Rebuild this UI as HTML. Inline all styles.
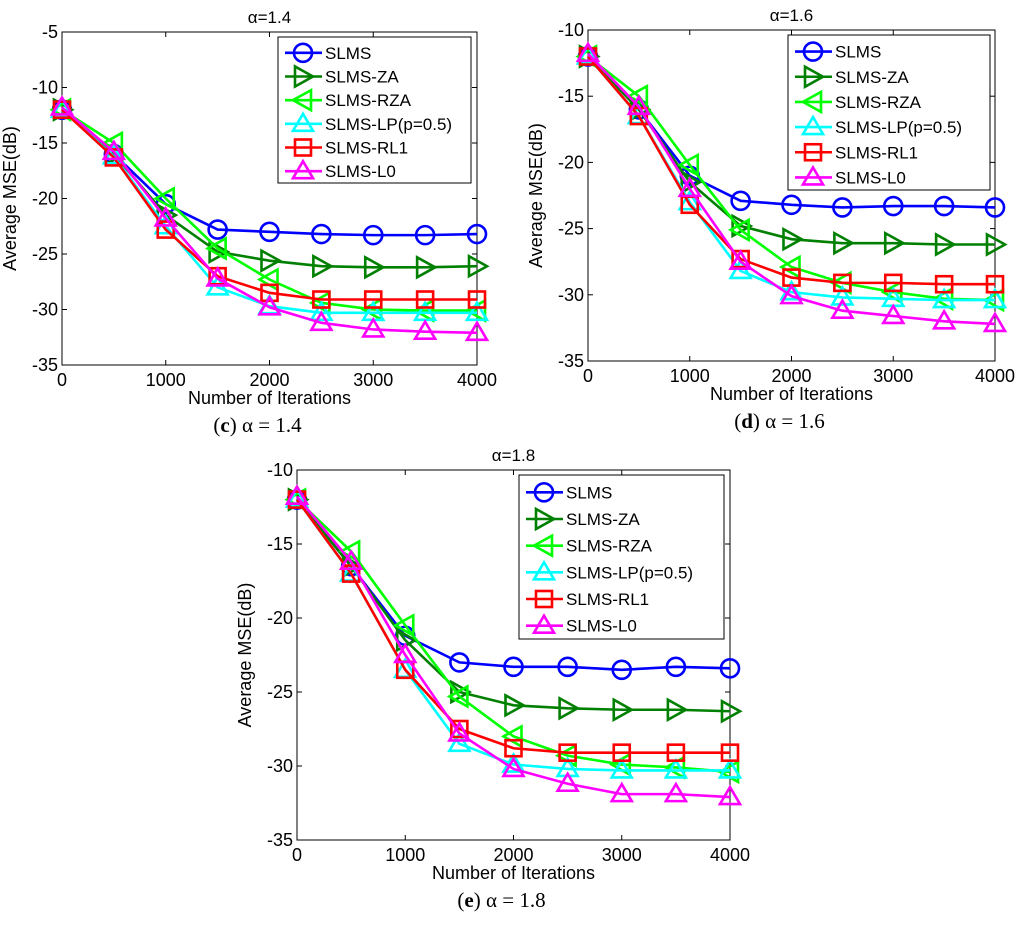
<!DOCTYPE html>
<html><head><meta charset="utf-8"><style>
body{margin:0;background:#fff;}
svg{display:block;font-family:"Liberation Sans",Arial,sans-serif;}
</style></head><body>
<svg id="fig" width="1024" height="925" viewBox="0 0 1024 925"></svg>
<script>
const xIters=[0,500,1000,1500,2000,2500,3000,3500,4000];
const seriesNames=["SLMS","SLMS-ZA","SLMS-RZA","SLMS-LP(p=0.5)","SLMS-RL1","SLMS-L0"];
const seriesKeys=["slms","slms-za","slms-rza","slms-lp","slms-rl1","slms-l0"];
const xTicks=[0,1000,2000,3000,4000];
// panel c (alpha=1.4)
const cSLMS=[-12,-16,-20.5,-22.8,-23,-23.2,-23.3,-23.3,-23.2];
const cZA=[-12,-16,-21.5,-24.8,-25.6,-26.1,-26.2,-26.2,-26.1];
const cRZA=[-12,-15,-20,-24.5,-27.3,-29.4,-30,-30.1,-30.1];
const cLP=[-12,-16.2,-22.5,-28,-29.7,-30.3,-30.3,-30.3,-30.3];
const cRL1=[-12,-16.3,-22.8,-27,-28.5,-29.1,-29.1,-29.1,-29.1];
const cL0=[-11.8,-15.8,-21.8,-27.2,-29.8,-31.2,-31.8,-32,-32.1];
const cYTicks=[-5,-10,-15,-20,-25,-30,-35];
// panel d (alpha=1.6)
const dSLMS=[-12,-16,-21,-22.9,-23.2,-23.4,-23.3,-23.3,-23.4];
const dZA=[-12,-16,-21.5,-24.8,-25.8,-26.1,-26.1,-26.2,-26.2];
const dRZA=[-12,-15,-20.2,-25.1,-27.9,-29.1,-29.8,-30.3,-30.4];
const dLP=[-12,-16.5,-23,-28.2,-29.8,-30.2,-30.3,-30.4,-30.4];
const dRL1=[-12,-16.5,-23.2,-27.3,-28.7,-29.1,-29.1,-29.2,-29.2];
const dL0=[-11.8,-15.8,-22,-27.5,-30.1,-31.2,-31.6,-32,-32.2];
const dYTicks=[-10,-15,-20,-25,-30,-35];
// panel e (alpha=1.8)
const eSLMS=[-12,-16.5,-21.2,-23,-23.3,-23.3,-23.5,-23.3,-23.4];
const eZA=[-12,-16.5,-21.5,-25,-25.9,-26.1,-26.2,-26.2,-26.3];
const eRZA=[-12,-15.5,-20.5,-25.3,-28,-29.3,-29.9,-30.1,-30.4];
const eLP=[-12,-17,-23.5,-28.5,-29.9,-30.2,-30.3,-30.3,-30.3];
const eRL1=[-12,-17,-23.5,-27.5,-28.8,-29.1,-29.1,-29.1,-29.1];
const eL0=[-11.8,-16.2,-22.5,-27.8,-30.2,-31.2,-31.9,-31.9,-32.1];
const eYTicks=[-10,-15,-20,-25,-30,-35];

const colors=["#0000ff","#008000","#00ff00","#00ffff","#ff0000","#ff00ff"];
const markers=["circle","right","left","up","square","up"];
const NS="http://www.w3.org/2000/svg";
const svg=document.getElementById("fig");
function mk(tag,attrs,parent){const e=document.createElementNS(NS,tag);for(const k in attrs)e.setAttribute(k,attrs[k]);(parent||svg).appendChild(e);return e;}
function marker(g,type,x,y,col){
  const r=9;let e;
  if(type==="circle")e=mk("circle",{cx:x,cy:y,r:r},g);
  else if(type==="square")e=mk("rect",{x:x-8,y:y-8,width:16,height:16},g);
  else{let p;
    if(type==="up")p=[[x,y-r-1],[x-r-1,y+r-2],[x+r+1,y+r-2]];
    else if(type==="right")p=[[x+r+1,y],[x-r+1,y-r-1],[x-r+1,y+r+1]];
    else p=[[x-r-1,y],[x+r-1,y-r-1],[x+r-1,y+r+1]];
    e=mk("polygon",{points:p.map(q=>q.join(",")).join(" ")},g);}
  e.setAttribute("fill","none");e.setAttribute("stroke",col);e.setAttribute("stroke-width","2.6");
  
  
}
function panel(id,P,yMax,yMin,yTicks,series,title,letter,alphaTxt,leg){
  const g=mk("g",{});
  
  
  const sx=v=>P.l+(v-0)/(4000)*(P.r-P.l);
  const sy=v=>P.t+(yMax-v)/(yMax-yMin)*(P.b-P.t);
  const box=mk("rect",{x:P.l,y:P.t,width:P.r-P.l,height:P.b-P.t,fill:"#fff",stroke:"#000","stroke-width":1},g);
  
  yTicks.forEach(t=>{const y=sy(t);
    mk("line",{x1:P.l,x2:P.l+5,y1:y,y2:y,stroke:"#000"},g);mk("line",{x1:P.r,x2:P.r-5,y1:y,y2:y,stroke:"#000"},g);
    const tx=mk("text",{x:P.l-4,y:y+6,"text-anchor":"end","font-size":18},g);tx.textContent=t;
    });
  xTicks.forEach(t=>{const x=sx(t);
    mk("line",{x1:x,x2:x,y1:P.b,y2:P.b-5,stroke:"#000"},g);mk("line",{x1:x,x2:x,y1:P.t,y2:P.t+5,stroke:"#000"},g);
    const tx=mk("text",{x:x,y:P.b+21,"text-anchor":"middle","font-size":18},g);tx.textContent=t;
    });
  const xl=mk("text",{x:(P.l+P.r)/2,y:P.b+39,"text-anchor":"middle","font-size":18},g);xl.textContent="Number of Iterations";
  
  const yc=(P.t+P.b)/2;
  const yl=mk("text",{x:P.l-46,y:yc,"text-anchor":"middle","font-size":18,transform:`rotate(-90 ${P.l-46} ${yc})`},g);
  yl.textContent="Average MSE(dB)";
  const tt=mk("text",{x:(P.l+P.r)/2,y:P.t-9,"text-anchor":"middle","font-size":17},g);tt.textContent=title;
  
  const cap=mk("text",{x:(P.l+P.r)/2-12,y:P.b+67,"text-anchor":"middle","font-size":21,"font-family":"Liberation Serif,serif"},g);
  cap.innerHTML=`(<tspan font-weight="bold">${letter}</tspan>) α = ${alphaTxt}`;
  
  series.forEach((s,i)=>{
    const sg=mk("g",{},g);
    
    const pl=mk("polyline",{points:s.map((v,j)=>sx(xIters[j])+","+sy(v)).join(" "),fill:"none",stroke:colors[i],"stroke-width":2.6},sg);
    
    s.forEach((v,j)=>marker(sg,markers[i],sx(xIters[j]),sy(v),colors[i]));
  });
  const lg=mk("g",{},g);
  mk("rect",{x:leg.x,y:leg.y,width:leg.w,height:leg.h,fill:"#fff",stroke:"#000","stroke-width":1},lg);
  const step=(leg.h-4)/6;
  seriesNames.forEach((n,i)=>{const y=leg.y+4+step*(i+0.5);
    const eg=mk("g",{},lg);
    mk("line",{x1:leg.x+7,x2:leg.x+44,y1:y,y2:y,stroke:colors[i],"stroke-width":2.6},eg);
    marker(eg,markers[i],leg.x+25,y,colors[i]);
    const t=mk("text",{x:leg.x+47,y:y+6,"font-size":17},eg);t.textContent=n;});
}
panel("c",{l:62,r:477,t:32,b:365},-5,-35,cYTicks,[cSLMS,cZA,cRZA,cLP,cRL1,cL0],"α=1.4","c","1.4",{x:278,y:37,w:193,h:146});
panel("d",{l:588,r:995,t:30,b:361},-10,-35,dYTicks,[dSLMS,dZA,dRZA,dLP,dRL1,dL0],"α=1.6","d","1.6",{x:788,y:35,w:202,h:155});
panel("e",{l:297,r:730,t:470,b:840},-10,-35,eYTicks,[eSLMS,eZA,eRZA,eLP,eRL1,eL0],"α=1.8","e","1.8",{x:519,y:475,w:205,h:164});
</script>
</body></html>
